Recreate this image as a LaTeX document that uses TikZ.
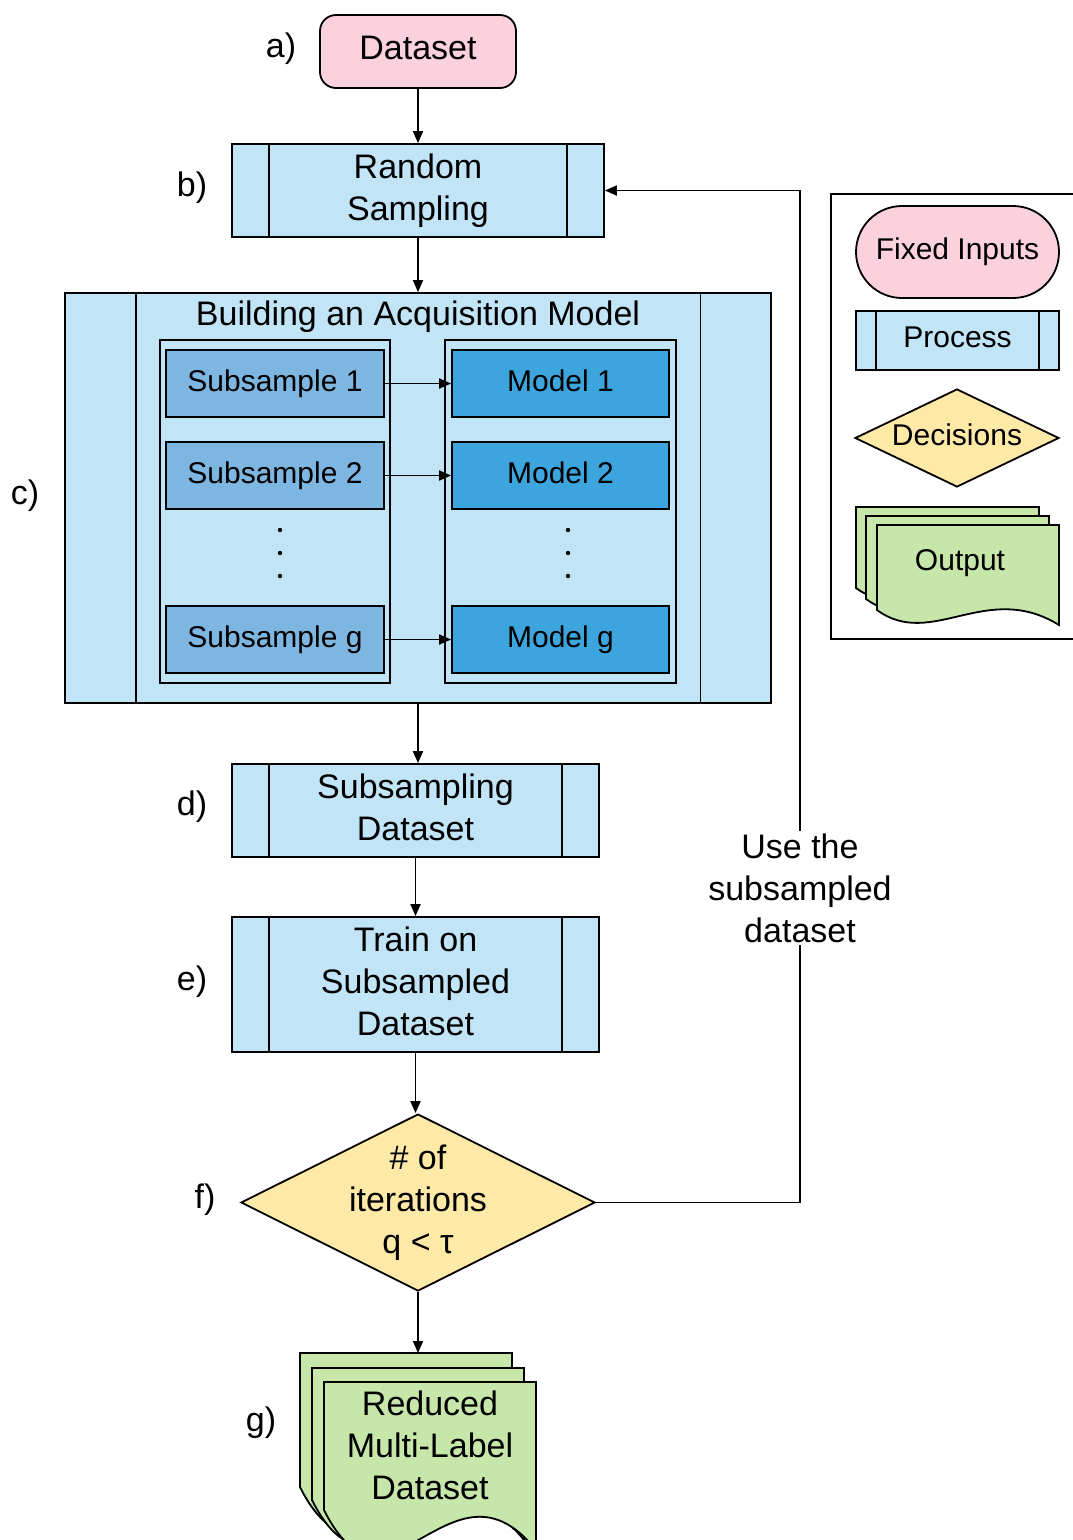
\documentclass[tikz,border=0pt]{standalone}
\usepackage{fontspec}
\setmainfont{Liberation Sans}
\usetikzlibrary{shapes.geometric,arrows.meta,calc}

\definecolor{pinkfill}{RGB}{250,209,220}
\definecolor{procfill}{RGB}{193,228,246}
\definecolor{subfill}{RGB}{126,182,226}
\definecolor{modfill}{RGB}{61,165,221}
\definecolor{decfill}{RGB}{254,233,166}
\definecolor{outfill}{RGB}{198,230,170}

% x0, top, width, left-corner y, right-corner offset, control offset 1, control offset 2
\newcommand\mdsheet[7]{%
  \draw[lw, fill=outfill] (#1,#2) -- ({#1+#3},#2) -- ({#1+#3},{#4+#5})
    .. controls ({#1+0.6*#3},{#4+#7}) and ({#1+0.3*#3},{#4+#6}) .. (#1,#4) -- cycle;}

\begin{document}
\begin{tikzpicture}[x=1pt,y=-1pt,
  lw/.style={line width=1.8pt},
  bigtxt/.style={font=\fontsize{34}{42}\selectfont, align=center},
  smalltxt/.style={font=\fontsize{30}{36}\selectfont, align=center},
  procbox/.style={draw, lw, fill=procfill, inner sep=0pt, text depth=7pt, path picture={
     \draw[lw] ($(path picture bounding box.north west)!0.1!(path picture bounding box.north east)$) -- ($(path picture bounding box.south west)!0.1!(path picture bounding box.south east)$);
     \draw[lw] ($(path picture bounding box.north west)!0.9!(path picture bounding box.north east)$) -- ($(path picture bounding box.south west)!0.9!(path picture bounding box.south east)$);}},
  container/.style={draw, lw, fill=procfill, inner sep=0pt, minimum width=230pt, minimum height=343pt},
  subbox/.style={draw, lw, fill=subfill, inner sep=0pt, minimum width=218pt, minimum height=67pt, smalltxt, text depth=6pt},
  modbox/.style={draw, lw, fill=modfill, inner sep=0pt, minimum width=217pt, minimum height=67pt, smalltxt, text depth=6pt},
  arr/.style={lw, -{Triangle[length=12pt,width=10pt]}},
  steplabel/.style={font=\fontsize{34}{42}\selectfont},
]
\useasboundingbox (0,0) rectangle (1073,1540);

% a) Dataset
\node[draw, lw, fill=pinkfill, rounded corners=16pt, minimum width=196pt, minimum height=73pt, bigtxt, text depth=7pt] (ds) at (418,51.5) {Dataset};
\node[steplabel] (la) at (281,49) {a)};

% b) Random sampling
\node[procbox, minimum width=372pt, minimum height=93pt, bigtxt] (rs) at (418,190.5) {Random\\Sampling};
\node[steplabel] (lb) at (192,188) {b)};

% c) Building
\node[procbox, minimum width=706pt, minimum height=410pt] (bam) at (418,498) {};
\node[bigtxt] (bamt) at (418,317) {Building an Acquisition Model};
\node[container] (lc) at (275,511.5) {};
\node[container, minimum width=231pt] (rc) at (560.5,511.5) {};
\node[subbox] (s1) at (275,383.5) {Subsample 1};
\node[subbox] (s2) at (275,475.5) {Subsample 2};
\node[subbox] (sg) at (275,639.5) {Subsample g};
\node[modbox] (m1) at (560.5,383.5) {Model 1};
\node[modbox] (m2) at (560.5,475.5) {Model 2};
\node[modbox] (mg) at (560.5,639.5) {Model g};
\foreach \yy in {530,553,576} {\fill (280,\yy) circle (2.2pt); \fill (568,\yy) circle (2.2pt);}
\draw[arr] (s1) -- (m1);
\draw[arr] (s2) -- (m2);
\draw[arr] (sg) -- (mg);
\node[steplabel] (lcl) at (25,496) {c)};

% d) Subsampling dataset
\node[procbox, minimum width=367pt, minimum height=93pt, bigtxt] (sd) at (415.5,810.5) {Subsampling\\Dataset};
\node[steplabel] (ld) at (192,807) {d)};

% e) Train
\node[procbox, minimum width=367pt, minimum height=135pt, bigtxt] (tr) at (415.5,984.5) {Train on\\Subsampled\\Dataset};
\node[steplabel] (le) at (192,982) {e)};

% f) Decision
\node[diamond, draw, lw, fill=decfill, minimum width=354pt, minimum height=177pt, inner sep=0pt] (dec) at (418,1202.5) {};
\node[bigtxt] (dect) at (418,1203) {\# of\\iterations\\q < τ};
\node[steplabel] (lf) at (205,1200) {f)};

% g) Output
\mdsheet{300}{1353}{212}{1487}{40}{127}{-66}
\mdsheet{312}{1368}{212}{1500}{40}{127}{-66}
\mdsheet{324}{1382}{212}{1510}{40}{127}{-66}
\coordinate (gtop) at (420,1353);
\node[bigtxt] (gt) at (430,1445) {Reduced\\Multi-Label\\Dataset};
\node[steplabel] (lg) at (261,1423) {g)};

% main arrows
\draw[arr] (ds) -- (rs);
\draw[arr] (rs) -- (bam);
\draw[arr] (bam.south) -- (bam.south |- sd.north);
\draw[arr] (sd) -- (tr);
\draw[arr] (tr.south) -- (tr.south |- dec.north);
\draw[arr] (dec.south) -- (dec.south |- gtop);

% feedback loop
\coordinate (fbA) at (800,1202.5);
\coordinate (fbB) at (800,190.5);
\draw[arr] (dec.east) -- (fbA) -- (fbB) -- (rs.east);
\node[bigtxt, fill=white, inner sep=3pt] (fbt) at (800,888) {Use the\\subsampled\\dataset};

% legend
\node[draw, lw, anchor=north west, minimum width=260pt, minimum height=445pt, inner sep=0pt] (leg) at (830,193) {};
\node[draw, lw, fill=pinkfill, rounded corners=46pt, minimum width=203pt, minimum height=92pt, inner sep=0pt, smalltxt, text depth=6pt] (lfix) at (957.5,252) {Fixed Inputs};
\node[procbox, minimum width=203pt, minimum height=59pt, smalltxt, text depth=6pt] (lproc) at (957.5,340.5) {Process};
\node[diamond, draw, lw, fill=decfill, minimum width=204pt, minimum height=98pt, inner sep=0pt] (ldec) at (957,438) {};
\node[smalltxt, text depth=6pt] (ldect) at (ldec) {Decisions};
\mdsheet{856}{507}{183}{588}{15}{40}{-30}
\mdsheet{866}{516}{183}{599}{15}{40}{-30}
\mdsheet{877}{525}{182}{610}{15}{40}{-30}
\node[smalltxt] (lout) at (960,563) {Output};
\end{tikzpicture}
\end{document}
